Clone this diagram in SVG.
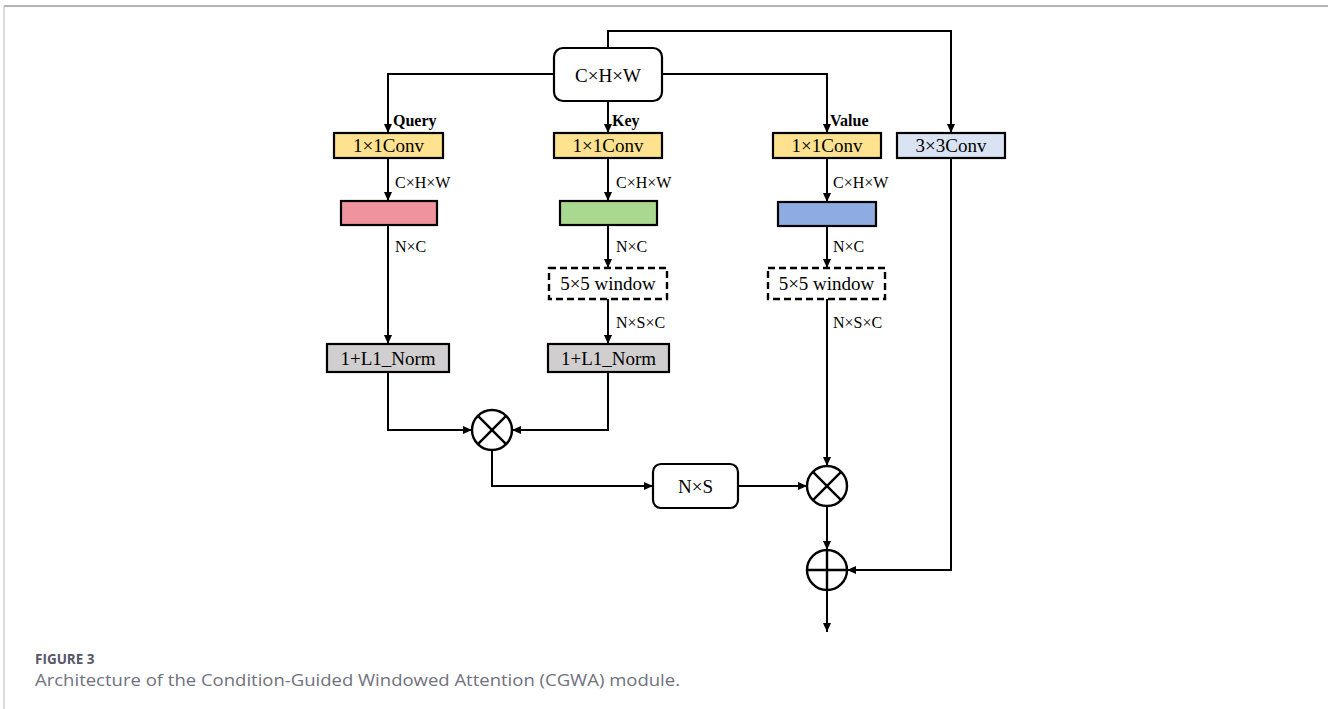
<svg xmlns="http://www.w3.org/2000/svg" width="1328" height="709" viewBox="0 0 1328 709">
<style>
.box{stroke:#000;stroke-width:2.2}
.t{font-family:"Liberation Serif","Times New Roman",serif;font-size:19px;fill:#000;text-anchor:middle}
.s{font-family:"Liberation Serif","Times New Roman",serif;font-size:16px;fill:#000}
.b{font-family:"Liberation Serif","Times New Roman",serif;font-size:16px;font-weight:bold;fill:#000}
.ln{fill:none;stroke:#000;stroke-width:2}
.arr{fill:none;stroke:#000;stroke-width:2;marker-end:url(#ah)}
.op{fill:#fff;stroke:#000;stroke-width:2.4}
.opl{stroke:#000;stroke-width:2.4}
.dash{fill:#fff;stroke:#000;stroke-width:2.4;stroke-dasharray:7,4}
</style>
<defs>
<marker id="ah" markerUnits="userSpaceOnUse" markerWidth="9" markerHeight="8" refX="9" refY="4" orient="auto">
<path d="M0,0 L9,4 L0,8 z" fill="#000"/>
</marker>
</defs>
<rect width="1328" height="709" fill="#fff"/>
<g id="frame">
<line x1="4" y1="6" x2="1328" y2="6" stroke="#9a9aa6" stroke-width="1.5"/>
<line x1="4" y1="6" x2="4" y2="709" stroke="#b4b4be" stroke-width="1"/>
</g>
<g id="connectors">
<polyline class="arr" points="608,48 608,31 951,31 951,133"/>
<polyline class="arr" points="554,74 388,74 388,133"/>
<polyline class="arr" points="662,74 827,74 827,133"/>
<line class="arr" x1="608" y1="101" x2="608" y2="133"/>
<line class="arr" x1="388" y1="158" x2="388" y2="201"/>
<line class="arr" x1="388" y1="225" x2="388" y2="344"/>
<polyline class="arr" points="388,372 388,430 472,430"/>
<line class="arr" x1="608" y1="158" x2="608" y2="201"/>
<line class="arr" x1="608" y1="225" x2="608" y2="268"/>
<line class="arr" x1="608" y1="299" x2="608" y2="344"/>
<polyline class="arr" points="608,372 608,430 512,430"/>
<polyline class="arr" points="492,450 492,486 653,486"/>
<line class="arr" x1="738" y1="486" x2="807" y2="486"/>
<line class="arr" x1="827" y1="158" x2="827" y2="202"/>
<line class="arr" x1="827" y1="226" x2="827" y2="268"/>
<line class="arr" x1="827" y1="299" x2="827" y2="466"/>
<line class="arr" x1="827" y1="506" x2="827" y2="550"/>
<polyline class="arr" points="951,158 951,570 847,570"/>
<line class="arr" x1="827" y1="590" x2="827" y2="632"/>
</g>
<g id="labels">
<text class="b" x="393" y="126">Query</text>
<text class="b" x="612" y="126">Key</text>
<text class="b" x="830" y="126">Value</text>
<text class="s" x="395" y="188">C×H×W</text>
<text class="s" x="616" y="188">C×H×W</text>
<text class="s" x="833" y="188">C×H×W</text>
<text class="s" x="395" y="252">N×C</text>
<text class="s" x="616" y="252">N×C</text>
<text class="s" x="833" y="252">N×C</text>
<text class="s" x="616" y="328">N×S×C</text>
<text class="s" x="833" y="328">N×S×C</text>
</g>
<g id="input">
<rect class="box" x="554" y="48" width="108" height="53" rx="9" fill="#fff"/>
<text class="t" x="608" y="82" font-size="20">C×H×W</text>
</g>
<g id="conv-q">
<rect class="box" x="334" y="133" width="109" height="25" fill="#FFE28F"/>
<text class="t" x="388.5" y="152">1×1Conv</text>
</g>
<g id="conv-k">
<rect class="box" x="554" y="133" width="108" height="25" fill="#FFE28F"/>
<text class="t" x="608" y="152">1×1Conv</text>
</g>
<g id="conv-v">
<rect class="box" x="773" y="133" width="108" height="25" fill="#FFE28F"/>
<text class="t" x="827" y="152">1×1Conv</text>
</g>
<g id="conv-3x3">
<rect class="box" x="897" y="133" width="108" height="25" fill="#DAE3F3"/>
<text class="t" x="951" y="152">3×3Conv</text>
</g>
<g id="q-feat"><rect class="box" x="341" y="201" width="96" height="24" fill="#EF949E"/></g>
<g id="k-feat"><rect class="box" x="560" y="201" width="97" height="24" fill="#A9D98E"/></g>
<g id="v-feat"><rect class="box" x="778" y="202" width="98" height="24" fill="#8FACE2"/></g>
<g id="k-window">
<rect class="dash" x="549" y="268" width="118" height="31"/>
<text class="t" x="608" y="290">5×5 window</text>
</g>
<g id="v-window">
<rect class="dash" x="768" y="268" width="117" height="31"/>
<text class="t" x="826.5" y="290">5×5 window</text>
</g>
<g id="q-norm">
<rect class="box" x="327" y="344" width="122" height="28" fill="#D0CECE"/>
<text class="t" x="388" y="365">1+L1_Norm</text>
</g>
<g id="k-norm">
<rect class="box" x="548" y="344" width="121" height="28" fill="#D0CECE"/>
<text class="t" x="608.5" y="365">1+L1_Norm</text>
</g>
<g id="mul1">
<circle class="op" cx="492" cy="430" r="20"/>
<line class="opl" x1="477.9" y1="415.9" x2="506.1" y2="444.1"/>
<line class="opl" x1="506.1" y1="415.9" x2="477.9" y2="444.1"/>
</g>
<g id="nxs">
<rect class="box" x="653" y="464" width="85" height="44" rx="8" fill="#fff"/>
<text class="t" x="695.5" y="493" font-size="20">N×S</text>
</g>
<g id="mul2">
<circle class="op" cx="827" cy="486" r="20"/>
<line class="opl" x1="812.9" y1="471.9" x2="841.1" y2="500.1"/>
<line class="opl" x1="841.1" y1="471.9" x2="812.9" y2="500.1"/>
</g>
<g id="add">
<circle class="op" cx="827" cy="570" r="20"/>
<line class="opl" x1="807" y1="570" x2="847" y2="570"/>
<line class="opl" x1="827" y1="550" x2="827" y2="590"/>
</g>
<g id="caption">
<text x="35" y="664" font-family="'Open Sans','Liberation Sans',sans-serif" font-size="13.5" font-weight="bold" fill="#55576a">FIGURE 3</text>
<text x="35" y="686" font-family="'Open Sans','Liberation Sans',sans-serif" font-size="16" fill="#70717e" textLength="645" lengthAdjust="spacingAndGlyphs">Architecture of the Condition-Guided Windowed Attention (CGWA) module.</text>
</g>
</svg>
